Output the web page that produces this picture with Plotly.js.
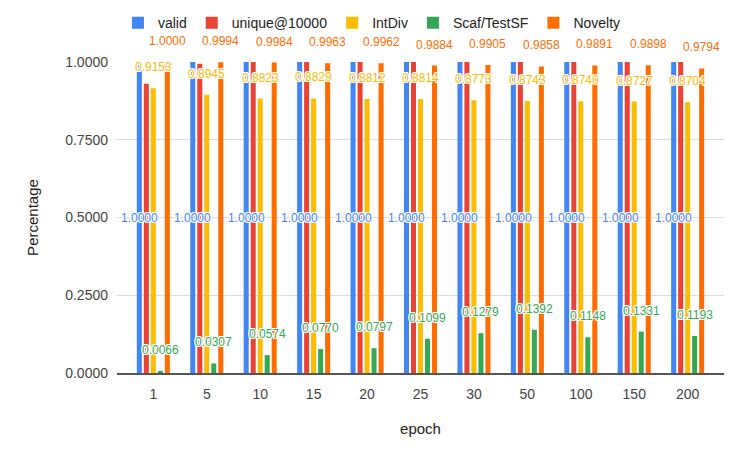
<!DOCTYPE html>
<html>
<head>
<meta charset="utf-8">
<script src="https://cdn.plot.ly/plotly-3.0.1.min.js"></script>
<style>html,body{margin:0;padding:0;background:#fff;}#chart{width:747px;height:462px;}</style>
</head>
<body>
<div id="chart"></div>
<script>
var epochs = ['1', '5', '10', '15', '20', '25', '30', '50', '100', '150', '200'];
var valid = [1.0, 1.0, 1.0, 1.0, 1.0, 1.0, 1.0, 1.0, 1.0, 1.0, 1.0];
var unique10000 = [0.930, 0.994, 1.0, 1.0, 1.0, 1.0, 1.0, 1.0, 1.0, 1.0, 1.0];
var intDiv = [0.9153, 0.8945, 0.8823, 0.8829, 0.8812, 0.8814, 0.8773, 0.8743, 0.8740, 0.8727, 0.8704];
var scafTestSF = [0.0066, 0.0307, 0.0574, 0.0770, 0.0797, 0.1099, 0.1279, 0.1392, 0.1148, 0.1331, 0.1193];
var novelty = [1.0000, 0.9994, 0.9984, 0.9963, 0.9962, 0.9884, 0.9905, 0.9858, 0.9891, 0.9898, 0.9794];

var seriesNames = ['valid', 'unique@10000', 'IntDiv', 'Scaf/TestSF', 'Novelty'];
var seriesData = [valid, unique10000, intDiv, scafTestSF, novelty];
var colors = ['#4285F4', '#EA4335', '#FBBC04', '#34A853', '#FF6D01'];
var labelColors = ['#4285F4', null, '#F9BB04', '#34A853', '#FF6D01'];

var traces = seriesData.map(function (d, i) {
  return {
    type: 'bar', name: seriesNames[i], x: epochs, y: d,
    marker: {color: colors[i]}, hoverinfo: 'none'
  };
});

var FONT = 'Arial, "Liberation Sans", sans-serif';
var outline = '1px 1px 0 #fff, -1px -1px 0 #fff, 1px -1px 0 #fff, -1px 1px 0 #fff, 0 1px 0 #fff, 0 -1px 0 #fff, 1px 0 0 #fff, -1px 0 0 #fff';
var shifts = [-14, -7, 0, 7, 14];
var annotations = [];
// valid: label in the middle of the bar
epochs.forEach(function (e, k) {
  annotations.push({x: k, y: valid[k] / 2, text: valid[k].toFixed(4), showarrow: false,
    xshift: shifts[0], yanchor: 'middle',
    font: {family: FONT, size: 12, color: labelColors[0], shadow: outline}});
});
[2, 3, 4].forEach(function (i) {
  epochs.forEach(function (e, k) {
    annotations.push({x: k, y: seriesData[i][k], text: seriesData[i][k].toFixed(4), showarrow: false,
      xshift: shifts[i], yanchor: 'bottom', yshift: 12,
      font: {family: FONT, size: 12, color: labelColors[i], shadow: outline}});
  });
});

var layout = {
  width: 747, height: 462,
  margin: {l: 117, r: 23, t: 62, b: 89, autoexpand: false},
  paper_bgcolor: '#fff', plot_bgcolor: '#fff',
  font: {family: FONT, color: '#222'},
  barmode: 'group', bargap: 0.345, bargroupgap: 0.28,
  showlegend: true,
  legend: {orientation: 'h', x: 0.42, xanchor: 'center', y: 1.125, yanchor: 'middle',
    font: {size: 14, color: '#222'}, itemclick: false},
  xaxis: {
    type: 'category', range: [-0.68, 10.68],
    showgrid: false, showline: true, linecolor: '#555', linewidth: 1.5,
    tickfont: {size: 14, color: '#444'}, ticklabelstandoff: 8,
    title: {text: 'epoch', font: {size: 15, color: '#222'}, standoff: 22}
  },
  yaxis: {
    range: [0, 1], tickvals: [0, 0.25, 0.5, 0.75, 1], tickformat: '.4f',
    gridcolor: '#ddd', gridwidth: 1, zeroline: false,
    tickfont: {size: 14, color: '#444'}, ticklabelstandoff: 8,
    title: {text: 'Percentage', font: {size: 15, color: '#222'}, standoff: 22}
  },
  annotations: annotations
};

Plotly.newPlot('chart', traces, layout, {displayModeBar: false, staticPlot: true});
</script>
</body>
</html>
